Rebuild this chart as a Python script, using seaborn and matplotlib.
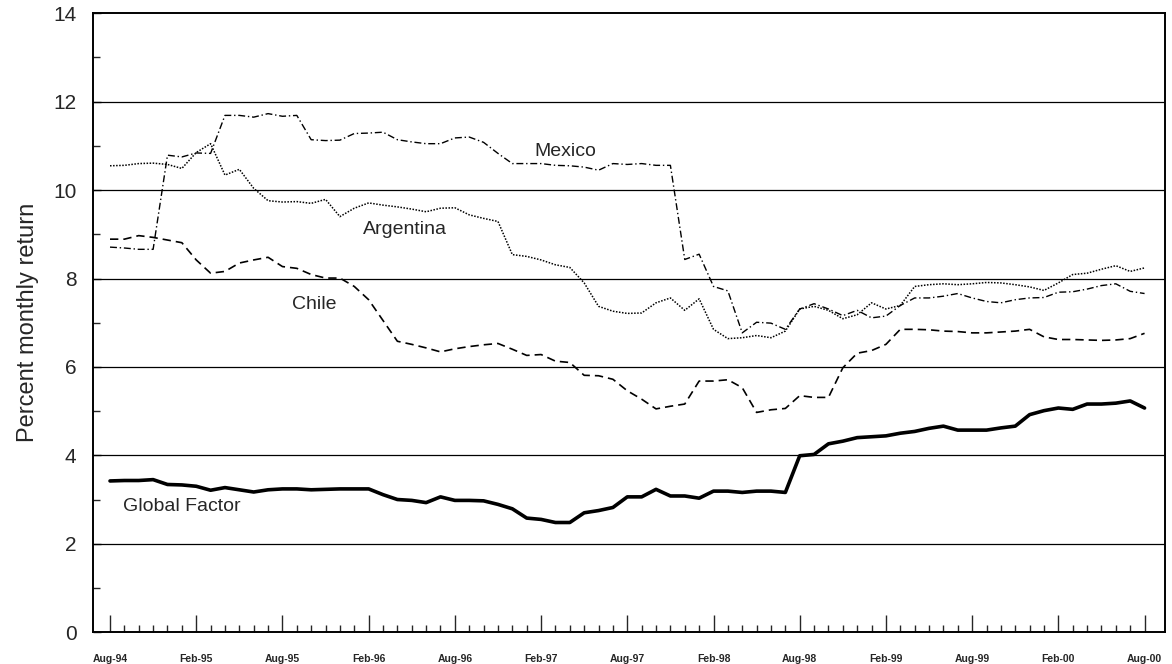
import numpy as np
import pandas as pd
import matplotlib
matplotlib.use("Agg")
import matplotlib.pyplot as plt
import seaborn as sns
from matplotlib.ticker import MultipleLocator, FixedLocator

# Monthly series, Aug-94 .. Aug-00 (73 months)
months = list(range(73))

mexico = [
    8.71, 8.69, 8.66, 8.66, 10.79, 10.75, 10.84, 10.83, 11.69, 11.69, 11.65, 11.73,
    11.67, 11.69, 11.14, 11.12, 11.13, 11.28, 11.29, 11.31, 11.14, 11.09, 11.05, 11.05,
    11.18, 11.20, 11.08, 10.83, 10.60, 10.60, 10.60, 10.56, 10.55, 10.52, 10.45, 10.60,
    10.58, 10.60, 10.56, 10.56, 8.43, 8.55, 7.82, 7.72, 6.77, 7.01, 6.99, 6.85,
    7.31, 7.43, 7.31, 7.16, 7.28, 7.11, 7.15, 7.39, 7.56, 7.56, 7.60, 7.66,
    7.56, 7.48, 7.45, 7.52, 7.56, 7.57, 7.69, 7.70, 7.76, 7.84, 7.88, 7.71,
    7.66,
]

argentina = [
    10.55, 10.56, 10.60, 10.61, 10.58, 10.49, 10.85, 11.05, 10.34, 10.47, 10.04, 9.76,
    9.73, 9.74, 9.70, 9.79, 9.40, 9.59, 9.71, 9.66, 9.62, 9.57, 9.51, 9.59,
    9.60, 9.44, 9.36, 9.29, 8.54, 8.50, 8.42, 8.31, 8.25, 7.90, 7.37, 7.26,
    7.21, 7.22, 7.45, 7.56, 7.28, 7.54, 6.85, 6.64, 6.66, 6.71, 6.66, 6.81,
    7.31, 7.37, 7.28, 7.09, 7.18, 7.45, 7.31, 7.39, 7.82, 7.86, 7.88, 7.86,
    7.88, 7.91, 7.90, 7.86, 7.81, 7.73, 7.90, 8.09, 8.12, 8.21, 8.29, 8.16,
    8.24,
]

chile = [
    8.89, 8.89, 8.97, 8.93, 8.87, 8.81, 8.42, 8.12, 8.16, 8.35, 8.42, 8.48,
    8.27, 8.23, 8.09, 8.01, 8.01, 7.82, 7.52, 7.05, 6.58, 6.51, 6.43, 6.34,
    6.41, 6.46, 6.50, 6.53, 6.40, 6.26, 6.28, 6.13, 6.10, 5.81, 5.80, 5.72,
    5.46, 5.27, 5.05, 5.11, 5.16, 5.68, 5.68, 5.71, 5.53, 4.97, 5.03, 5.06,
    5.35, 5.31, 5.31, 5.98, 6.31, 6.37, 6.51, 6.85, 6.85, 6.84, 6.81, 6.80,
    6.77, 6.77, 6.79, 6.81, 6.85, 6.68, 6.62, 6.62, 6.61, 6.60, 6.61, 6.64,
    6.76,
]

global_factor = [
    3.42, 3.43, 3.43, 3.45, 3.34, 3.33, 3.30, 3.21, 3.27, 3.22, 3.17, 3.22,
    3.24, 3.24, 3.22, 3.23, 3.24, 3.24, 3.24, 3.11, 3.00, 2.98, 2.93, 3.06,
    2.98, 2.98, 2.97, 2.89, 2.79, 2.58, 2.55, 2.48, 2.48, 2.70, 2.75, 2.82,
    3.06, 3.06, 3.23, 3.08, 3.08, 3.03, 3.19, 3.19, 3.16, 3.19, 3.19, 3.16,
    3.99, 4.02, 4.26, 4.32, 4.40, 4.42, 4.44, 4.50, 4.54, 4.61, 4.66, 4.57,
    4.57, 4.57, 4.62, 4.66, 4.92, 5.01, 5.07, 5.04, 5.16, 5.16, 5.18, 5.23,
    5.07,
]

tick_labels = ["Aug-94", "Feb-95", "Aug-95", "Feb-96", "Aug-96", "Feb-97", "Aug-97",
               "Feb-98", "Aug-98", "Feb-99", "Aug-99", "Feb-00", "Aug-00"]

df = pd.DataFrame({
    "month": months * 4,
    "value": mexico + argentina + chile + global_factor,
    "series": ["Mexico"] * 73 + ["Argentina"] * 73 + ["Chile"] * 73 + ["Global Factor"] * 73,
})

sns.set_style("ticks")
plt.rcParams["font.family"] = ["Liberation Sans", "DejaVu Sans"]

fig = plt.figure(figsize=(11.72, 6.64), dpi=100)
ax = fig.add_axes([0.0794, 0.048, 0.9146, 0.932])

# horizontal gridlines at even values
for yv in range(2, 14, 2):
    ax.axhline(yv, color="black", lw=0.9, zorder=1)

styles = {
    "Mexico": dict(linestyle=(0, (5, 2, 1, 2)), linewidth=1.0),
    "Argentina": dict(linestyle=(0, (1, 1)), linewidth=1.1),
    "Chile": dict(linestyle=(0, (5, 3)), linewidth=1.2),
    "Global Factor": dict(linestyle="-", linewidth=2.6),
}
for name, kw in styles.items():
    sns.lineplot(data=df[df["series"] == name], x="month", y="value",
                 color="black", ax=ax, zorder=3, **kw)

# series labels
ax.text(31.7, 10.88, "Mexico", fontsize=14, ha="center", va="center")
ax.text(20.5, 9.10, "Argentina", fontsize=14, ha="center", va="center")
ax.text(14.2, 7.41, "Chile", fontsize=14, ha="center", va="center")
ax.text(5.0, 2.84, "Global Factor", fontsize=14, ha="center", va="center")

ax.set_xlim(-1.18, 73.42)
ax.set_ylim(0, 14)
ax.xaxis.set_major_locator(FixedLocator(list(range(0, 73, 6))))
ax.xaxis.set_minor_locator(FixedLocator(months))
ax.set_xticklabels(tick_labels, fontsize=7.5, fontweight="bold")
ax.yaxis.set_major_locator(MultipleLocator(2))
ax.yaxis.set_minor_locator(MultipleLocator(1))
ax.tick_params(axis="y", labelsize=15, direction="in", length=6, width=1, pad=12)
ax.tick_params(axis="y", which="minor", direction="in", length=5, width=1)
ax.tick_params(axis="x", which="major", direction="in", length=12, width=1, pad=16)
ax.tick_params(axis="x", which="minor", direction="in", length=5, width=1)

ax.set_xlabel("")
ax.set_ylabel("Percent monthly return", fontsize=17, labelpad=10)

for sp in ax.spines.values():
    sp.set_visible(True)
    sp.set_color("black")
    sp.set_linewidth(1.4)

fig.savefig("out.png", dpi=100, facecolor="white")
